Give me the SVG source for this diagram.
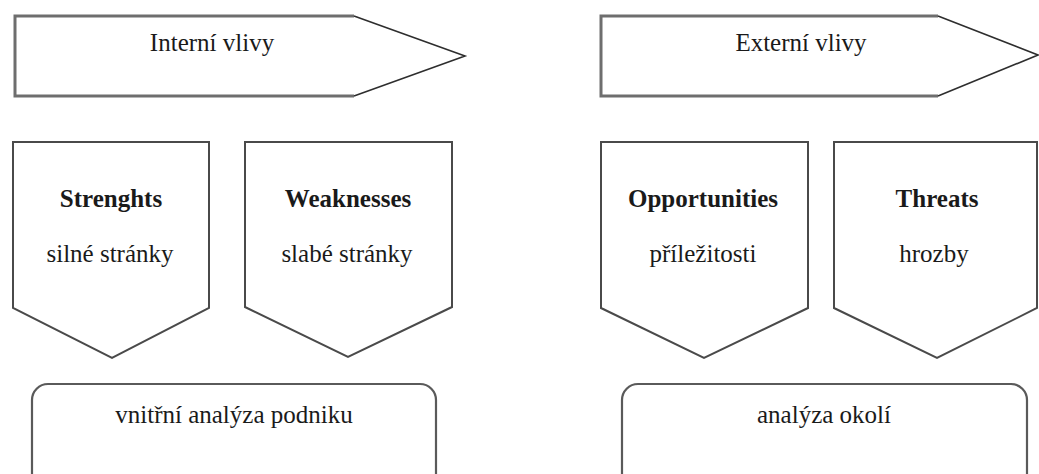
<svg xmlns="http://www.w3.org/2000/svg" width="1039" height="474" viewBox="0 0 1039 474">
<style>
  .bg { fill: #ffffff; }
  .fill { fill: #ffffff; stroke: none; }
  .body { fill: none; stroke: #6e6e6e; stroke-width: 3; stroke-linejoin: miter; }
  .tip { fill: none; stroke: #2e2e2e; stroke-width: 1.6; stroke-linejoin: miter; }
  .pent { fill: #ffffff; stroke: #4a4a4a; stroke-width: 2; stroke-linejoin: miter; }
  .box { fill: #ffffff; stroke: #5a5a5a; stroke-width: 2.2; }
  .t { font-family: "Liberation Serif", "Times New Roman", serif; font-size: 25px; fill: #1a1a1a; text-anchor: middle; }
  .b { font-weight: bold; }
</style>
<rect class="bg" x="0" y="0" width="1039" height="474"/>
<g id="connectors"/>
<g id="interni-vlivy">
  <polygon class="fill" points="15,16 354,16 465,56 354,96 15,96"/>
  <polyline class="body" points="354,16 15,16 15,96 354,96"/>
  <polyline class="tip" points="354,16 465,56 354,96"/>
  <text class="t" x="212" y="51">Interní vlivy</text>
</g>
<g id="externi-vlivy">
  <polygon class="fill" points="601,16 938,16 1038,55 938,96 601,96"/>
  <polyline class="body" points="938,16 601,16 601,96 938,96"/>
  <polyline class="tip" points="938,16 1038,55 938,96"/>
  <text class="t" x="801" y="51">Externí vlivy</text>
</g>
<g id="strenghts">
  <polygon class="pent" points="13,142 209,142 209,308 112,358 13,308"/>
  <text class="t b" x="111" y="207">Strenghts</text>
  <text class="t" x="110" y="262">silné stránky</text>
</g>
<g id="weaknesses">
  <polygon class="pent" points="245,142 452,142 452,307 348,357 245,307"/>
  <text class="t b" x="348" y="207">Weaknesses</text>
  <text class="t" x="347" y="262">slabé stránky</text>
</g>
<g id="opportunities">
  <polygon class="pent" points="601,142 808,142 808,308 704,358 601,308"/>
  <text class="t b" x="703" y="207">Opportunities</text>
  <text class="t" x="703" y="262">příležitosti</text>
</g>
<g id="threats">
  <polygon class="pent" points="834,142 1037,142 1037,308 937,358 834,308"/>
  <text class="t b" x="937" y="207">Threats</text>
  <text class="t" x="934" y="262">hrozby</text>
</g>
<g id="vnitrni-analyza">
  <rect class="box" x="32" y="384" width="404" height="110" rx="16" ry="16"/>
  <text class="t" x="234" y="423">vnitřní analýza podniku</text>
</g>
<g id="analyza-okoli">
  <rect class="box" x="622" y="384" width="405" height="110" rx="16" ry="16"/>
  <text class="t" x="824" y="423">analýza okolí</text>
</g>
</svg>
